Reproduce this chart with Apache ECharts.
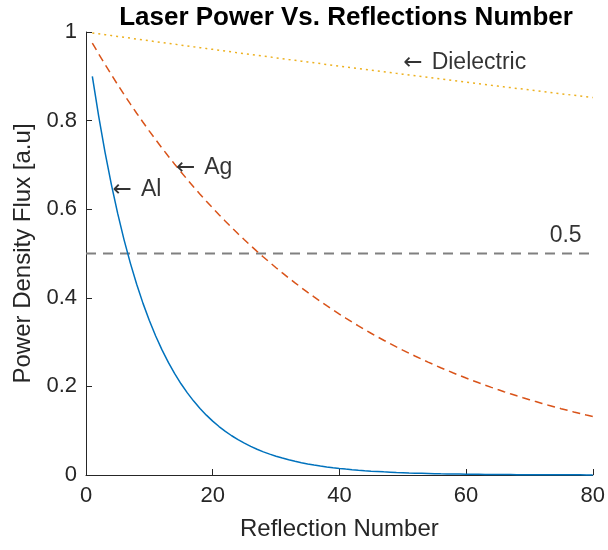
<!DOCTYPE html>
<html>
<head>
<meta charset="utf-8">
<script src="https://cdn.jsdelivr.net/npm/echarts@6/dist/echarts.min.js"></script>
<style>
html,body{margin:0;padding:0;background:#fff;}
#chart{width:608px;height:550px;}
</style>
</head>
<body>
<div id="chart"></div>
<script>
const reflections = [1,2,3,4,5,6,7,8,9,10,11,12,13,14,15,16,17,18,19,20,21,22,23,24,25,26,27,28,29,30,31,32,33,34,35,36,37,38,39,40,41,42,43,44,45,46,47,48,49,50,51,52,53,54,55,56,57,58,59,60,61,62,63,64,65,66,67,68,69,70,71,72,73,74,75,76,77,78,79,80];

const alValues = [0.9,0.81,0.729,0.6561,0.5905,0.5314,0.4783,0.4305,0.3874,0.3487,
0.3138,0.2824,0.2542,0.2288,0.2059,0.1853,0.1668,0.1501,0.1351,0.1216,
0.1094,0.0985,0.0886,0.0798,0.0718,0.0646,0.0581,0.0523,0.0471,0.0424,
0.0382,0.0343,0.0309,0.0278,0.0250,0.0225,0.0203,0.0182,0.0164,0.0148,
0.0133,0.0120,0.0108,0.0097,0.0087,0.0079,0.0071,0.0064,0.0057,0.0052,
0.0046,0.0042,0.0038,0.0034,0.0030,0.0027,0.0025,0.0022,0.0020,0.0018,
0.0016,0.0015,0.0013,0.0012,0.0011,0.0010,0.0009,0.0008,0.0007,0.0006,
0.0006,0.0005,0.0005,0.0004,0.0004,0.0003,0.0003,0.0003,0.0002,0.0002];

const agValues = [0.975,0.9506,0.9269,0.9037,0.8811,0.8591,0.8376,0.8167,0.7962,0.7763,
0.7569,0.7380,0.7195,0.7016,0.6840,0.6669,0.6502,0.6340,0.6181,0.6027,
0.5876,0.5729,0.5586,0.5446,0.5310,0.5177,0.5048,0.4922,0.4799,0.4679,
0.4562,0.4448,0.4337,0.4228,0.4123,0.4019,0.3919,0.3821,0.3725,0.3632,
0.3542,0.3453,0.3367,0.3282,0.3200,0.3120,0.3042,0.2966,0.2892,0.2820,
0.2749,0.2681,0.2614,0.2548,0.2485,0.2422,0.2362,0.2303,0.2245,0.2189,
0.2134,0.2081,0.2029,0.1978,0.1929,0.1881,0.1834,0.1788,0.1743,0.1700,
0.1657,0.1616,0.1575,0.1536,0.1497,0.1460,0.1423,0.1388,0.1353,0.1319];

const dielectricValues = [0.998,0.9960,0.9940,0.9920,0.9900,0.9881,0.9861,0.9841,0.9821,0.9802,
0.9782,0.9763,0.9743,0.9724,0.9704,0.9685,0.9665,0.9646,0.9627,0.9608,
0.9588,0.9569,0.9550,0.9531,0.9512,0.9493,0.9474,0.9455,0.9436,0.9417,
0.9398,0.9379,0.9361,0.9342,0.9323,0.9305,0.9286,0.9267,0.9249,0.9230,
0.9212,0.9194,0.9175,0.9157,0.9138,0.9120,0.9102,0.9084,0.9066,0.9047,
0.9029,0.9011,0.8993,0.8975,0.8957,0.8939,0.8922,0.8904,0.8886,0.8868,
0.8850,0.8833,0.8815,0.8797,0.8780,0.8762,0.8745,0.8727,0.8710,0.8692,
0.8675,0.8658,0.8640,0.8623,0.8606,0.8589,0.8571,0.8554,0.8537,0.8520];

const thresholdX = [0, 80];
const thresholdY = [0.5, 0.5];

const annotArrow = [true, true, true, false];
const annotText = ['Dielectric', 'Ag', 'Al', '0.5'];
const annotX = [50.1, 14.2, 4.2, 73.2];
const annotY = [0.930, 0.693, 0.643, 0.540];

const xTicks = [0, 20, 40, 60, 80];
const yTicks = [0, 0.2, 0.4, 0.6, 0.8, 1];

const FONT = '"Liberation Sans", Arial, Helvetica, "DejaVu Sans", sans-serif';
const AXIS_COLOR = '#262626';

function pairs(xs, ys) { return xs.map((x, i) => [x, ys[i]]); }

const chart = echarts.init(document.getElementById('chart'), null, {renderer: 'canvas'});
chart.setOption({
  animation: false,
  backgroundColor: '#ffffff',
  textStyle: {fontFamily: FONT},
  title: {
    text: 'Laser Power Vs. Reflections Number',
    left: 341,
    textAlign: 'center',
    top: 0,
    textStyle: {fontFamily: FONT, fontWeight: 'bold', fontSize: 26, color: '#000'}
  },
  grid: {left: 86, right: 11, top: 32, bottom: 75, containLabel: false},
  xAxis: {
    type: 'value', min: xTicks[0], max: xTicks[xTicks.length - 1], interval: 20,
    name: 'Reflection Number', nameLocation: 'middle', nameGap: 42,
    nameTextStyle: {fontFamily: FONT, fontSize: 24, color: AXIS_COLOR},
    axisLine: {show: true, onZero: false, lineStyle: {color: AXIS_COLOR, width: 1}},
    axisTick: {show: true, inside: true, length: 6, lineStyle: {color: AXIS_COLOR}},
    axisLabel: {fontFamily: FONT, fontSize: 22, color: AXIS_COLOR, margin: 10},
    splitLine: {show: false}
  },
  yAxis: {
    type: 'value', min: yTicks[0], max: yTicks[yTicks.length - 1], interval: 0.2,
    name: 'Power Density Flux [a.u]', nameLocation: 'middle', nameGap: 50,
    nameTextStyle: {fontFamily: FONT, fontSize: 24, color: AXIS_COLOR},
    axisLine: {show: true, onZero: false, lineStyle: {color: AXIS_COLOR, width: 1}},
    axisTick: {show: true, inside: true, length: 6, lineStyle: {color: AXIS_COLOR}},
    axisLabel: {fontFamily: FONT, fontSize: 22, color: AXIS_COLOR, margin: 9},
    splitLine: {show: false}
  },
  series: [
    {
      name: 'Al', type: 'line', data: pairs(reflections, alValues),
      showSymbol: false, symbol: 'none', clip: false,
      lineStyle: {color: '#0072BD', width: 1.5, type: 'solid'}, z: 3
    },
    {
      name: 'Ag', type: 'line', data: pairs(reflections, agValues),
      showSymbol: false, symbol: 'none',
      lineStyle: {color: '#D95319', width: 1.5, type: [8, 5]}, z: 3
    },
    {
      name: 'Dielectric', type: 'line', data: pairs(reflections, dielectricValues),
      showSymbol: false, symbol: 'none',
      lineStyle: {color: '#EDB120', width: 1.5, type: [2, 4]}, z: 3
    },
    {
      name: 'Threshold', type: 'line', data: pairs(thresholdX, thresholdY),
      showSymbol: false, symbol: 'none',
      lineStyle: {color: '#808080', width: 2, type: [10, 7]}, z: 2
    },
    {
      name: 'Annotations', type: 'scatter', symbolSize: 0, silent: true, z: 5,
      data: annotX.map((x, i) => ({value: [x, annotY[i]], name: annotText[i], arrow: annotArrow[i]})),
      label: {
        show: true, position: 'right', distance: 0,
        formatter: p => (p.data.arrow ? '{arr|\u2190}{sp| }' : '') + '{t|' + p.name + '}',
        rich: {
          arr: {fontFamily: '"DejaVu Sans", sans-serif', fontSize: 23, color: '#000'},
          sp: {fontFamily: FONT, fontSize: 23, width: 9},
          t: {fontFamily: FONT, fontSize: 23, color: '#000'}
        }
      }
    }
  ]
});
</script>
</body>
</html>
